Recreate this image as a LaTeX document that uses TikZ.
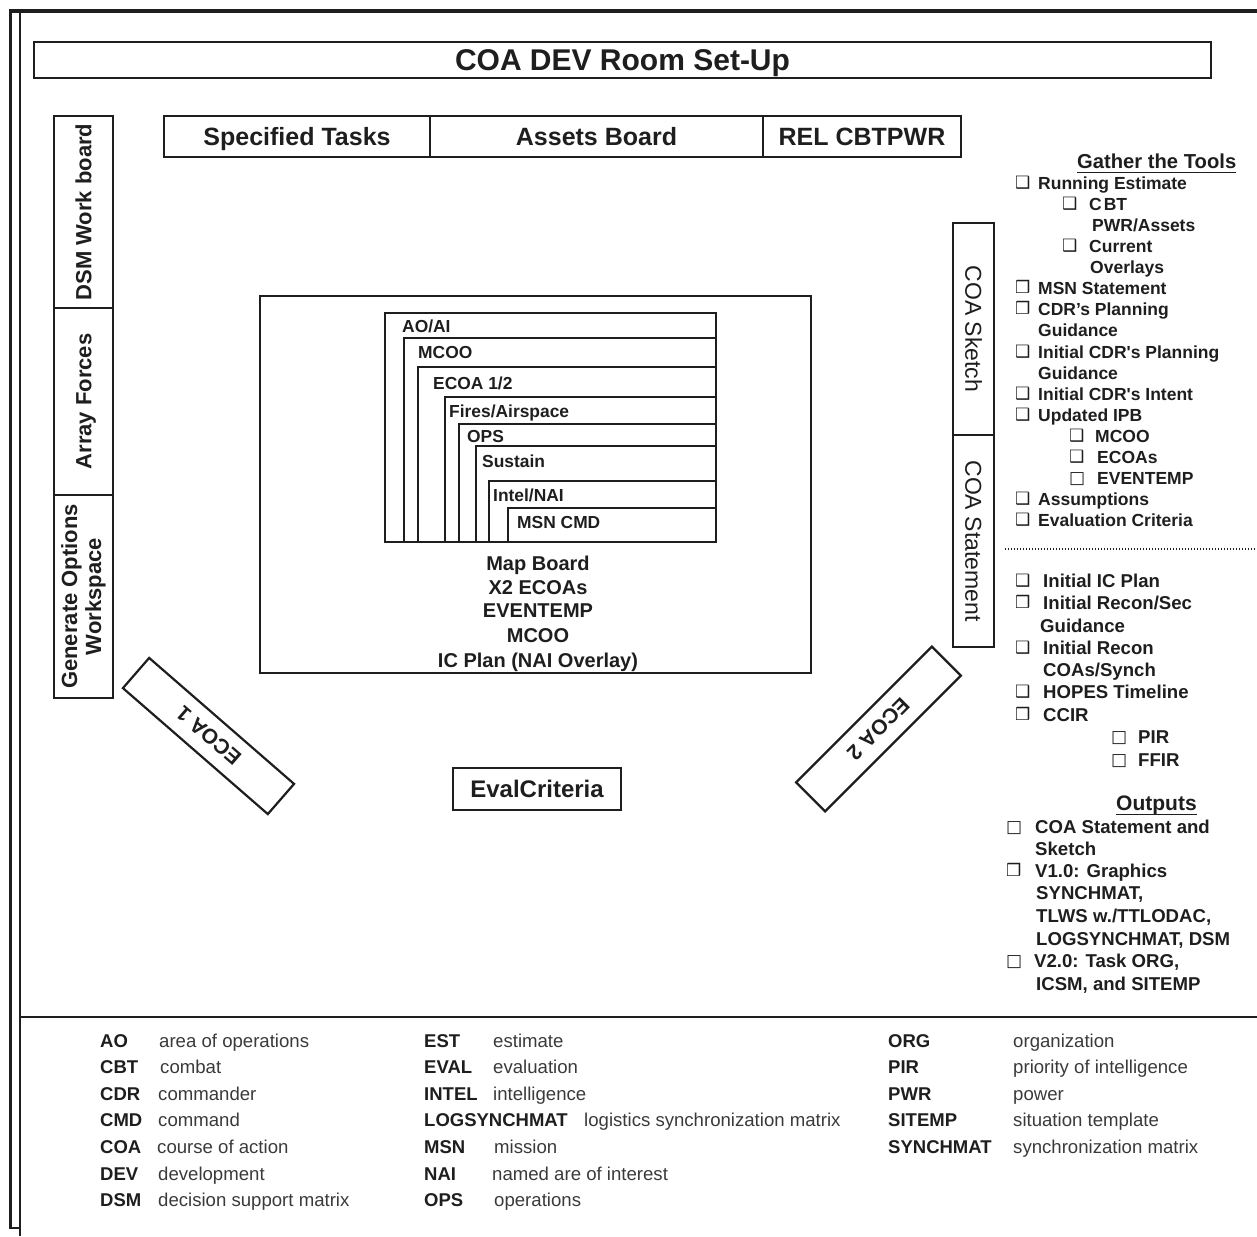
\documentclass[tikz,border=0pt]{standalone}
\usepackage{fontspec}
\setmainfont{Liberation Sans}
\newfontfamily\djv{DejaVu Sans}
\newcommand{\fsz}[1]{\fontsize{#1}{#1}\selectfont}
\newcommand{\ckA}{{\djv\fsz{17}❑}}
\newcommand{\ckB}{{\djv\fsz{17}❒}}
\newcommand{\ckC}{{\djv\fsz{17}□}}
\definecolor{ink}{HTML}{1E1E1E}
\definecolor{grayt}{HTML}{3A3A3A}
% name, style, glyph, gx, tx, y(center), text
\newcommand{\gitem}[7]{%
  \node[anchor=base west, inner sep=0pt, text=ink] (#1b) at (#4,#6+5.5) {#3};
  \node[anchor=base west, inner sep=0pt, #2] (#1) at (#5,#6+6.3) {#7};}
\newcommand{\gcont}[5]{%
  \node[anchor=base west, inner sep=0pt, #2] (#1) at (#3,#4+6.3) {#5};}
% name, x abbr, x def, y, abbr, def
\newcommand{\lgd}[6]{%
  \node[anchor=base west, inner sep=0pt, ab] (#1a) at (#2,#4+6.5) {#5};
  \node[anchor=base west, inner sep=0pt, df] (#1d) at (#3,#4+6.5) {#6};}
\begin{document}
\begin{tikzpicture}[x=1pt,y=-1pt,
  bx/.style={draw=ink, line width=2.2pt, inner sep=0pt, text=ink},
  bt/.style={font=\bfseries\fsz{25}, text height=17.9pt, text depth=0pt},
  lt/.style={font=\bfseries\fsz{22}, text height=15.75pt, text depth=0pt},
  nl/.style={font=\bfseries\fsz{17.4}, text=ink, anchor=base west, inner sep=0pt},
  ml/.style={font=\bfseries\fsz{20}, text=ink, anchor=base, inner sep=0pt},
  ru/.style={font=\bfseries\fsz{17.5}, text=ink},
  rl/.style={font=\bfseries\fsz{18.6}, text=ink},
  ab/.style={font=\bfseries\fsz{18.5}, text=ink},
  df/.style={font=\fsz{18.6}, text=grayt}]
\useasboundingbox (0,0) rectangle (1257,1236);
% frame
\draw[ink, line width=4pt] (9,11.5) -- (1257,11.5);
\draw[ink, line width=3pt] (10.5,10) -- (10.5,1228);
\draw[ink, line width=2pt] (20,13) -- (20,1236);
\draw[ink, line width=1.5pt] (9,1228) -- (20,1228);
\draw[ink, line width=2pt] (20,1017) -- (1257,1017);
% title
\node[bx, line width=2.6pt, minimum width=1177pt, minimum height=36pt, font=\bfseries\fsz{30}, text height=21.5pt, text depth=0pt] (title) at (622.5,60) {COA DEV Room Set-Up};
% top boards
\node[bx, bt, minimum width=266pt, minimum height=41pt] (spec) at (297,136.5) {Specified Tasks};
\node[bx, bt, minimum width=333pt, minimum height=41pt] (assets) at (596.5,136.5) {Assets Board};
\node[bx, bt, minimum width=198pt, minimum height=41pt] (rel) at (862,136.5) {REL CBTPWR};
% left boards
\node[bx, lt, rotate=90, minimum width=192pt, minimum height=59pt] (dsm) at (83.5,212) {DSM Work board};
\node[bx, lt, rotate=90, minimum width=187pt, minimum height=59pt] (array) at (83.5,401.5) {Array Forces};
\node[bx, rotate=90, minimum width=203pt, minimum height=59pt, font=\bfseries\fontsize{22}{24}\selectfont, align=center] (gen) at (83.5,596.5) {Generate Options\\Workspace};
% right boards
\node[bx, rotate=-90, minimum width=212pt, minimum height=41pt, font=\fsz{23}, text height=16.5pt, text depth=0pt] (sketch) at (973.5,329) {COA Sketch};
\node[bx, rotate=-90, minimum width=212pt, minimum height=41pt, font=\fsz{23}, text height=16.5pt, text depth=0pt] (stmt) at (973.5,541) {COA Statement};
% map board
\node[bx, line width=2pt, minimum width=551pt, minimum height=377pt] (map) at (535.5,484.5) {};
\foreach \l/\t in {385/313, 404/338, 418/367, 445/397, 459/424, 476/446, 489/481, 508/508}
  \draw[ink, line width=2.4pt] (\l,\t) rectangle (716,542);
\node[nl] (l1) at (402,332) {AO/AI};
\node[nl] (l2) at (418,358) {MCOO};
\node[nl] (l3) at (433,389) {ECOA 1/2};
\node[nl] (l4) at (449,417) {Fires/Airspace};
\node[nl] (l5) at (467,442) {OPS};
\node[nl] (l6) at (482,467) {Sustain};
\node[nl] (l7) at (493,501) {Intel/NAI};
\node[nl] (l8) at (517,528) {MSN CMD};
\node[ml] (m1) at (538,570.2) {Map Board};
\node[ml] (m2) at (538,594.2) {X2 ECOAs};
\node[ml] (m3) at (538,617.2) {EVENTEMP};
\node[ml] (m4) at (538,642.2) {MCOO};
\node[ml] (m5) at (538,667.2) {IC Plan (NAI Overlay)};
% eval criteria & ECOA boards
\node[bx, minimum width=168pt, minimum height=42pt, font=\bfseries\fsz{24}, text height=17.2pt, text depth=0pt] (eval) at (537,789) {EvalCriteria};
\node[bx, minimum width=192pt, minimum height=40pt, rotate=139, font=\bfseries\fsz{21}, text height=15pt, text depth=0pt] (ecoa1) at (208.5,736) {ECOA 1};
\node[bx, minimum width=192pt, minimum height=41pt, rotate=-135, font=\bfseries\fsz{21}, text height=15pt, text depth=0pt] (ecoa2) at (878.5,729) {ECOA 2};
% right panel: gather the tools
\node[anchor=base west, inner sep=0pt, font=\bfseries\fsz{20.2}, text=ink] (gath) at (1077,168.5) {Gather the Tools};
\draw[ink, line width=1.3pt] ([yshift=-4pt]gath.base west) -- ([yshift=-4pt]gath.base east);
\gitem{g1}{ru}{\ckA}{1015}{1038}{183}{Running Estimate}
\gitem{g2}{ru}{\ckA}{1062}{1089}{204}{C\kern2pt BT}
\gcont{g2c}{ru}{1092}{225}{PWR/Assets}
\gitem{g3}{ru}{\ckA}{1062}{1089}{246}{Current}
\gcont{g3c}{ru}{1090}{267}{Overlays}
\gitem{g4}{ru}{\ckB}{1015}{1038}{288}{MSN Statement}
\gitem{g5}{ru}{\ckB}{1015}{1038}{309}{CDR’s Planning}
\gcont{g5c}{ru}{1038}{330}{Guidance}
\gitem{g6}{ru}{\ckA}{1015}{1038}{352}{Initial CDR\textquotesingle s Planning}
\gcont{g6c}{ru}{1038}{373}{Guidance}
\gitem{g7}{ru}{\ckA}{1015}{1038}{394}{Initial CDR\textquotesingle s Intent}
\gitem{g8}{ru}{\ckA}{1015}{1038}{415}{Updated IPB}
\gitem{g9}{ru}{\ckA}{1069}{1095}{436}{MCOO}
\gitem{g10}{ru}{\ckA}{1069}{1097}{457}{ECOAs}
\gitem{g11}{ru}{\ckC}{1069}{1097}{478}{EVENTEMP}
\gitem{g12}{ru}{\ckA}{1015}{1038}{499}{Assumptions}
\gitem{g13}{ru}{\ckA}{1015}{1038}{520}{Evaluation Criteria}
\coordinate (dotA) at (1005,549);
\coordinate (dotB) at (1257,549);
\draw[ink, line width=1.4pt, dash pattern=on 1.2pt off 1.8pt] (dotA) -- (dotB);
\gitem{h1}{rl}{\ckA}{1015}{1043}{581}{Initial IC Plan}
\gitem{h2}{rl}{\ckB}{1015}{1043}{603}{Initial Recon/Sec}
\gcont{h2c}{rl}{1040}{626}{Guidance}
\gitem{h3}{rl}{\ckA}{1015}{1043}{648}{Initial Recon}
\gcont{h3c}{rl}{1043}{670}{COAs/Synch}
\gitem{h4}{rl}{\ckA}{1015}{1043}{692}{HOPES Timeline}
\gitem{h5}{rl}{\ckB}{1015}{1043}{715}{CCIR}
\gitem{h6}{rl}{\ckC}{1111}{1138}{737}{PIR}
\gitem{h7}{rl}{\ckC}{1111}{1138}{760}{FFIR}
% outputs
\node[anchor=base west, inner sep=0pt, font=\bfseries\fsz{21}, text=ink] (outp) at (1116,810.5) {Outputs};
\draw[ink, line width=1.3pt] ([yshift=-4pt]outp.base west) -- ([yshift=-4pt]outp.base east);
\gitem{o1}{rl}{\ckC}{1006}{1035}{827}{COA Statement and}
\gcont{o1c}{rl}{1035}{849}{Sketch}
\gitem{o2}{rl}{\ckB}{1006}{1035}{871}{V1.0: Graphics}
\gcont{o2c}{rl}{1036}{893}{SYNCHMAT,}
\gcont{o2d}{rl}{1036}{916}{TLWS w./TTLODAC,}
\gcont{o2e}{rl}{1036}{939}{LOGSYNCHMAT, DSM}
\gitem{o3}{rl}{\ckC}{1006}{1034}{961}{V2.0: Task ORG,}
\gcont{o3c}{rl}{1036}{984}{ICSM, and SITEMP}
% legend
\lgd{a1}{100}{159}{1041}{AO}{area of operations}
\lgd{a2}{100}{160}{1067}{CBT}{combat}
\lgd{a3}{100}{158}{1094}{CDR}{commander}
\lgd{a4}{100}{158}{1120}{CMD}{command}
\lgd{a5}{100}{157}{1147}{COA}{course of action}
\lgd{a6}{100}{158}{1174}{DEV}{development}
\lgd{a7}{100}{158}{1200}{DSM}{decision support matrix}
\lgd{b1}{424}{493}{1041}{EST}{estimate}
\lgd{b2}{424}{493}{1067}{EVAL}{evaluation}
\lgd{b3}{424}{493}{1094}{INTEL}{intelligence}
\lgd{b4}{424}{584}{1120}{LOGSYNCHMAT}{logistics synchronization matrix}
\lgd{b5}{424}{494}{1147}{MSN}{mission}
\lgd{b6}{424}{492}{1174}{NAI}{named are of interest}
\lgd{b7}{424}{494}{1200}{OPS}{operations}
\lgd{c1}{888}{1013}{1041}{ORG}{organization}
\lgd{c2}{888}{1013}{1067}{PIR}{priority of intelligence}
\lgd{c3}{888}{1013}{1094}{PWR}{power}
\lgd{c4}{888}{1013}{1120}{SITEMP}{situation template}
\lgd{c5}{888}{1013}{1147}{SYNCHMAT}{synchronization matrix}
\end{tikzpicture}
\end{document}
